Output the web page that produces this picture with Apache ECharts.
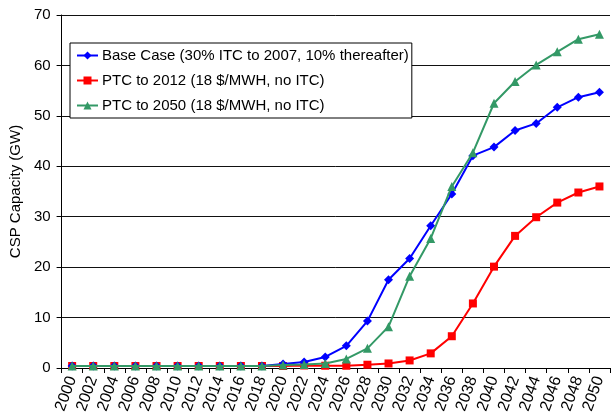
<!DOCTYPE html>
<html>
<head>
<meta charset="utf-8">
<title>CSP Capacity</title>
<script src="https://cdn.jsdelivr.net/npm/echarts@6/dist/echarts.min.js"></script>
<style>
  html, body { margin: 0; padding: 0; background: #fff; }
  #chart { width: 611px; height: 420px; }
</style>
</head>
<body>
<div id="chart"></div>
<script>
// Years on the category axis
const years = ['2000','2002','2004','2006','2008','2010','2012','2014','2016','2018',
  '2020','2022','2024','2026','2028','2030','2032','2034','2036','2038',
  '2040','2042','2044','2046','2048','2050'];

// Installed CSP capacity (GW) per scenario
const baseCase = [0.4,0.4,0.4,0.4,0.4,0.4,0.4,0.4,0.4,0.4,
  0.8,1.2,2.2,4.4,9.3,17.5,21.7,28.2,34.5,42.1,
  43.8,47.1,48.5,51.7,53.7,54.7];
const ptc2012 = [0.4,0.4,0.4,0.4,0.4,0.4,0.4,0.4,0.4,0.4,
  0.4,0.5,0.45,0.45,0.65,0.9,1.5,2.9,6.3,12.8,
  20.1,26.2,29.9,32.8,34.8,36.0];
const ptc2050 = [0.4,0.4,0.4,0.4,0.4,0.4,0.4,0.4,0.4,0.4,
  0.6,0.7,0.9,1.8,3.9,8.2,18.2,25.7,36.0,42.7,
  52.5,56.8,60.1,62.7,65.2,66.2];

const seriesNames = [
  'Base Case (30% ITC to 2007, 10% thereafter)',
  'PTC to 2012 (18 $/MWH, no ITC)',
  'PTC to 2050 (18 $/MWH, no ITC)'
];

const yTicks = { min: 0, max: 70, step: 10 };
const FONT = '"Liberation Sans", Arial, sans-serif';

const chart = echarts.init(document.getElementById('chart'), null, { renderer: 'canvas' });

chart.setOption({
  animation: false,
  backgroundColor: '#ffffff',
  textStyle: { fontFamily: FONT, color: '#000' },
  grid: { left: 61, right: 1, top: 15, bottom: 52, containLabel: false },
  legend: {
    orient: 'vertical',
    left: 70,
    top: 43,
    padding: [5, 3, 5, 6],
    itemWidth: 21,
    itemHeight: 10,
    itemGap: 10,
    backgroundColor: '#ffffff',
    borderColor: '#000',
    borderWidth: 1,
    borderRadius: 0,
    textStyle: { fontFamily: FONT, fontSize: 15, color: '#000', padding: [0, 0, 0, -1] },
    data: seriesNames
  },
  xAxis: {
    type: 'category',
    data: years,
    boundaryGap: true,
    axisLine: { show: true, lineStyle: { color: '#000', width: 1 } },
    axisTick: { show: true, length: 5, lineStyle: { color: '#000' } },
    axisLabel: { interval: 0, rotate: 70, fontSize: 16, fontFamily: FONT, color: '#000', margin: 9 },
    splitLine: { show: false }
  },
  yAxis: {
    type: 'value',
    min: yTicks.min,
    max: yTicks.max,
    interval: yTicks.step,
    name: 'CSP Capacity (GW)',
    nameLocation: 'middle',
    nameRotate: 90,
    nameGap: 33,
    nameTextStyle: { fontSize: 15, fontFamily: FONT, color: '#000' },
    axisLine: { show: true, lineStyle: { color: '#000', width: 1 } },
    axisTick: { show: true, length: 5, lineStyle: { color: '#000' } },
    axisLabel: { fontSize: 15, fontFamily: FONT, color: '#000', margin: 11 },
    splitLine: { show: true, lineStyle: { color: '#111', width: 1 } }
  },
  series: [
    {
      name: seriesNames[0],
      type: 'line',
      data: baseCase,
      symbol: 'diamond',
      symbolSize: 9,
      itemStyle: { color: '#0000ff' },
      lineStyle: { color: '#0000ff', width: 2 },
      z: 4
    },
    {
      name: seriesNames[1],
      type: 'line',
      data: ptc2012,
      symbol: 'rect',
      symbolSize: 8,
      itemStyle: { color: '#ff0000' },
      lineStyle: { color: '#ff0000', width: 2 },
      z: 3
    },
    {
      name: seriesNames[2],
      type: 'line',
      data: ptc2050,
      symbol: 'triangle',
      symbolSize: 9,
      itemStyle: { color: '#339966' },
      lineStyle: { color: '#339966', width: 2 },
      z: 5
    }
  ]
});
</script>
</body>
</html>
